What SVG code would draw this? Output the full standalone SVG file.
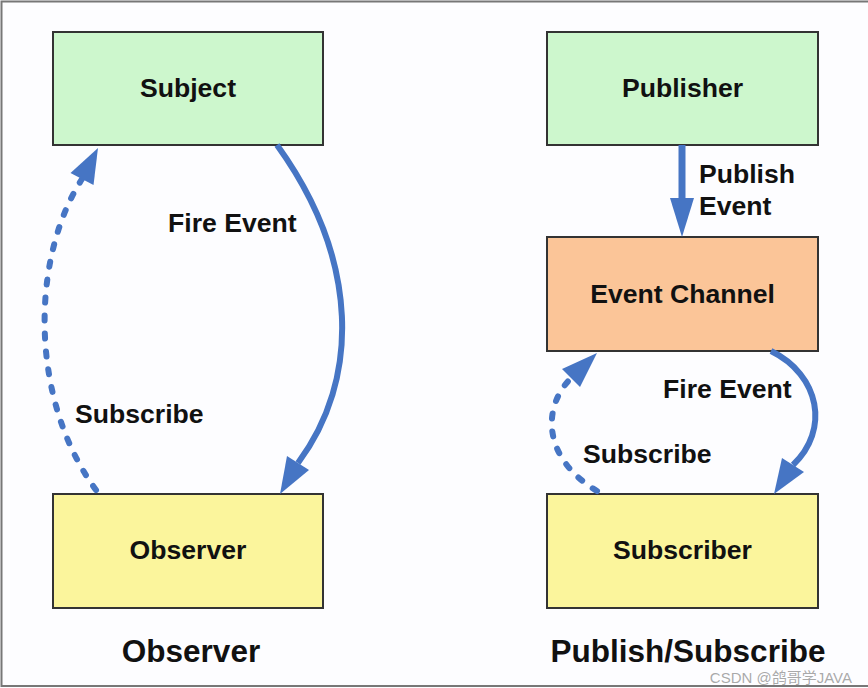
<svg xmlns="http://www.w3.org/2000/svg" width="868" height="688" viewBox="0 0 868 688">
<style>
.box{stroke:#333;stroke-width:2}
.lbl{font-family:"Liberation Sans",Arial,sans-serif;font-weight:bold;font-size:26.6px;fill:#111}
.ttl{font-family:"Liberation Sans",Arial,sans-serif;font-weight:bold;font-size:31.5px;fill:#111}
.ln{fill:none;stroke:#4675c4;stroke-width:6}
.dash{stroke-dasharray:5 13;stroke-linecap:round}
.head{fill:#4675c4}
</style>
<rect x="0" y="0" width="868" height="688" fill="#fdfdff"/>
<rect x="1.5" y="1.5" width="880" height="684.5" fill="none" stroke="#777" stroke-width="2"/>

<g id="subject"><rect class="box" x="53" y="32" width="270" height="113" fill="#cdf7cd"/><text class="lbl" x="188" y="97" text-anchor="middle">Subject</text></g>
<g id="publisher"><rect class="box" x="547" y="32" width="271" height="113" fill="#cdf7cd"/><text class="lbl" x="682.5" y="97" text-anchor="middle">Publisher</text></g>
<g id="event-channel"><rect class="box" x="547" y="237" width="271" height="114" fill="#fbc598"/><text class="lbl" x="682.5" y="303" text-anchor="middle">Event Channel</text></g>
<g id="observer"><rect class="box" x="53" y="494" width="270" height="114" fill="#fbf59c"/><text class="lbl" x="188" y="559" text-anchor="middle">Observer</text></g>
<g id="subscriber"><rect class="box" x="547" y="494" width="271" height="114" fill="#fbf59c"/><text class="lbl" x="682.5" y="559" text-anchor="middle">Subscriber</text></g>

<g id="connectors">
<path class="ln" d="M277,145 C360,260 360,380 298,463"/>
<polygon class="head" points="280,494 309,470 287,456"/>
<path class="ln dash" d="M96,490 C30,400 30,260 82,179"/>
<polygon class="head" points="98,148 70.5,173 93.5,185"/>
<path class="ln" style="stroke-width:7" d="M682,145 L682,200"/>
<polygon class="head" points="670,198 694,198 682,237"/>
<path class="ln" d="M771,351 C820,375 830,430 793,465"/>
<polygon class="head" points="774,494 804,472 782,458"/>
<path class="ln dash" d="M597,491 C545,460 540,410 571,378"/>
<polygon class="head" points="597,353 562,369 580,387"/>
</g>

<g id="labels">
<text class="lbl" x="168" y="232">Fire Event</text>
<text class="lbl" x="75" y="423">Subscribe</text>
<text class="lbl" x="699" y="183">Publish</text>
<text class="lbl" x="699" y="215">Event</text>
<text class="lbl" x="663" y="398">Fire Event</text>
<text class="lbl" x="583" y="463">Subscribe</text>
<text class="ttl" x="191" y="662" text-anchor="middle">Observer</text>
<text class="ttl" x="688" y="662" text-anchor="middle">Publish/Subscribe</text>
<text x="852" y="683" text-anchor="end" font-family="'Liberation Sans','Noto Sans CJK SC',sans-serif" font-size="15" fill="#9a9a9a" fill-opacity="0.85">CSDN @鸽哥学JAVA</text>
</g>
</svg>
